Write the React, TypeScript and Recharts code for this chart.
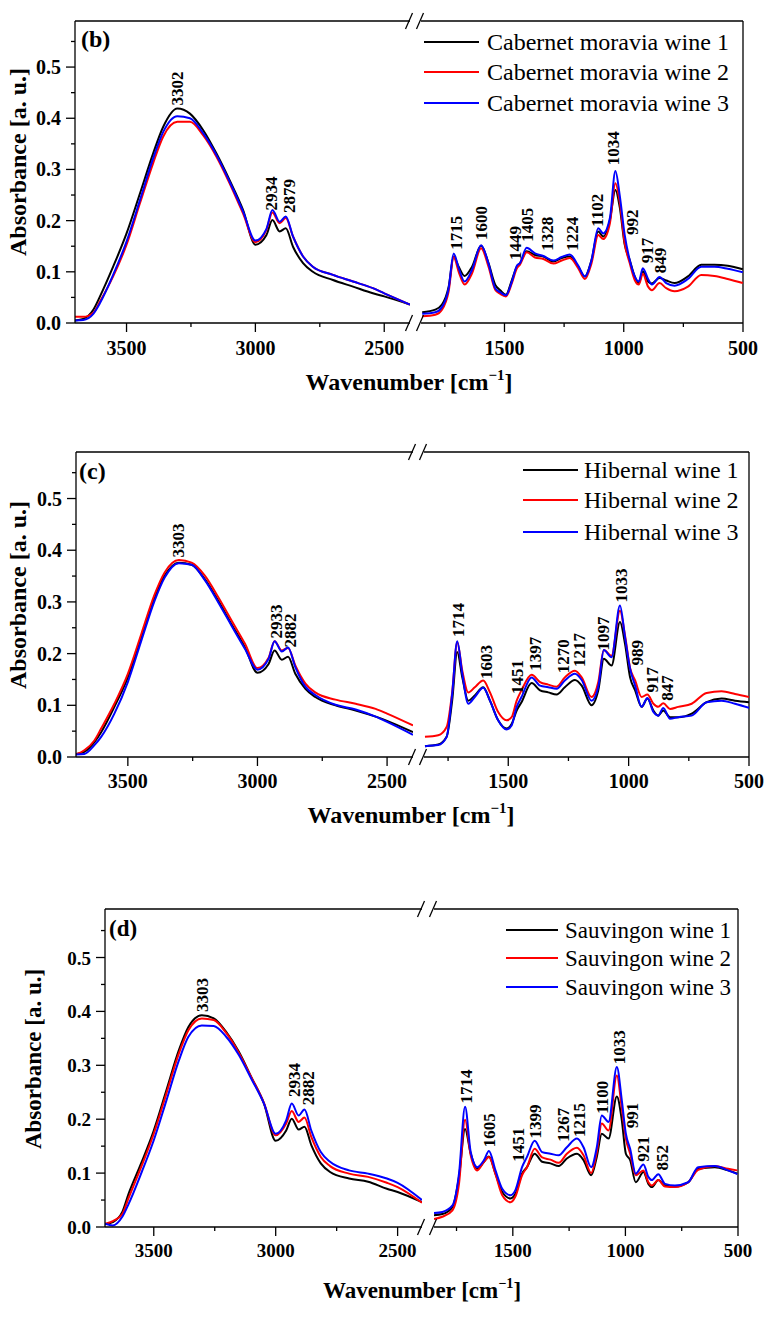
import React from 'react';
import { LineChart, Line, XAxis, YAxis, ReferenceLine, ReferenceDot } from 'recharts';

const FONT = '"Liberation Serif", "Times New Roman", Times, serif';

// ---------- wavenumbers ----------
const leftWn = [3700, 3668, 3629, 3603, 3552, 3500, 3448, 3397, 3358, 3303, 3254, 3203, 3151, 3100, 3048, 3000, 2957, 2934, 2906, 2882, 2854, 2815, 2777, 2699, 2621, 2544, 2500, 2400];

// ---------- panel (b) ----------
const bLeft1 = [0.005, 0.008, 0.026, 0.052, 0.11, 0.175, 0.253, 0.331, 0.383, 0.419, 0.409, 0.377, 0.331, 0.279, 0.221, 0.153, 0.172, 0.201, 0.179, 0.185, 0.149, 0.117, 0.1, 0.084, 0.071, 0.058, 0.052, 0.036];
const bLeft2 = [0.012, 0.012, 0.02, 0.042, 0.091, 0.153, 0.234, 0.312, 0.364, 0.393, 0.393, 0.367, 0.325, 0.273, 0.214, 0.158, 0.182, 0.216, 0.195, 0.205, 0.169, 0.13, 0.11, 0.094, 0.081, 0.068, 0.058, 0.036];
const bLeft3 = [0.005, 0.006, 0.018, 0.039, 0.094, 0.159, 0.24, 0.321, 0.373, 0.404, 0.4, 0.371, 0.328, 0.276, 0.218, 0.161, 0.184, 0.221, 0.198, 0.208, 0.169, 0.13, 0.11, 0.094, 0.081, 0.068, 0.058, 0.036];
const bRightWn = [1845, 1790, 1762, 1734, 1713, 1692, 1667, 1636, 1598, 1567, 1539, 1518, 1494, 1469, 1448, 1435, 1407, 1372, 1337, 1295, 1260, 1226, 1191, 1163, 1135, 1107, 1086, 1058, 1035, 1017, 996, 975, 954, 937, 920, 898, 882, 850, 822, 787, 731, 675, 620, 564, 501];
const bRight1 = [0.021, 0.026, 0.036, 0.071, 0.13, 0.11, 0.092, 0.11, 0.151, 0.117, 0.075, 0.064, 0.055, 0.084, 0.11, 0.117, 0.14, 0.133, 0.13, 0.12, 0.127, 0.13, 0.11, 0.091, 0.123, 0.179, 0.169, 0.201, 0.26, 0.227, 0.153, 0.123, 0.091, 0.078, 0.101, 0.081, 0.077, 0.088, 0.083, 0.078, 0.091, 0.114, 0.114, 0.112, 0.105];
const bRight2 = [0.013, 0.016, 0.026, 0.062, 0.129, 0.1, 0.075, 0.097, 0.146, 0.11, 0.065, 0.057, 0.052, 0.078, 0.107, 0.114, 0.138, 0.128, 0.125, 0.116, 0.122, 0.127, 0.107, 0.086, 0.117, 0.172, 0.164, 0.195, 0.273, 0.237, 0.156, 0.117, 0.084, 0.075, 0.096, 0.071, 0.064, 0.078, 0.068, 0.062, 0.071, 0.094, 0.092, 0.086, 0.078];
const bRight3 = [0.018, 0.021, 0.031, 0.068, 0.136, 0.107, 0.081, 0.104, 0.152, 0.116, 0.068, 0.06, 0.054, 0.081, 0.112, 0.117, 0.147, 0.136, 0.131, 0.122, 0.129, 0.134, 0.112, 0.091, 0.123, 0.185, 0.175, 0.205, 0.297, 0.25, 0.172, 0.123, 0.091, 0.081, 0.107, 0.086, 0.075, 0.09, 0.078, 0.073, 0.086, 0.11, 0.11, 0.106, 0.099];
const bNames = ['Cabernet moravia wine 1', 'Cabernet moravia wine 2', 'Cabernet moravia wine 3'];
const bPeakL = ['3302', '2934', '2879'];
const bPeakLX = [3305, 2941, 2870];
const bPeakLY = [0.425, 0.22, 0.215];
const bPeakR = ['1715', '1600', '1449', '1405', '1328', '1224', '1102', '1034', '992', '917', '849'];
const bPeakRX = [1702, 1599, 1455, 1406, 1323, 1215, 1113, 1044, 967, 904, 849];
const bPeakRY = [0.143, 0.162, 0.123, 0.159, 0.141, 0.141, 0.188, 0.308, 0.172, 0.117, 0.097];

// ---------- panel (c) ----------
const cLeft1 = [0.006, 0.01, 0.029, 0.048, 0.097, 0.154, 0.232, 0.309, 0.351, 0.376, 0.372, 0.344, 0.302, 0.257, 0.212, 0.163, 0.18, 0.206, 0.188, 0.194, 0.161, 0.132, 0.116, 0.1, 0.09, 0.078, 0.07, 0.048];
const cLeft2 = [0.005, 0.013, 0.032, 0.055, 0.103, 0.161, 0.238, 0.314, 0.357, 0.381, 0.376, 0.351, 0.309, 0.264, 0.219, 0.172, 0.192, 0.224, 0.206, 0.211, 0.177, 0.142, 0.125, 0.111, 0.103, 0.093, 0.084, 0.061];
const cLeft3 = [0.005, 0.006, 0.023, 0.039, 0.084, 0.145, 0.225, 0.302, 0.347, 0.375, 0.372, 0.342, 0.299, 0.254, 0.209, 0.169, 0.19, 0.224, 0.204, 0.212, 0.174, 0.136, 0.12, 0.101, 0.092, 0.078, 0.068, 0.043];
const cRightWn = [1846, 1791, 1756, 1733, 1712, 1691, 1666, 1639, 1604, 1576, 1542, 1507, 1486, 1465, 1445, 1403, 1368, 1334, 1299, 1265, 1223, 1195, 1154, 1126, 1103, 1071, 1036, 1015, 994, 973, 946, 922, 897, 877, 856, 828, 794, 738, 676, 614, 558, 500];
const cRight1 = [0.021, 0.024, 0.039, 0.109, 0.203, 0.154, 0.109, 0.119, 0.135, 0.109, 0.071, 0.055, 0.064, 0.09, 0.106, 0.143, 0.129, 0.125, 0.121, 0.135, 0.149, 0.138, 0.1, 0.129, 0.19, 0.177, 0.261, 0.219, 0.154, 0.129, 0.097, 0.113, 0.09, 0.08, 0.09, 0.077, 0.077, 0.084, 0.106, 0.113, 0.109, 0.106];
const cRight2 = [0.039, 0.042, 0.058, 0.125, 0.222, 0.167, 0.125, 0.135, 0.148, 0.125, 0.087, 0.071, 0.077, 0.109, 0.129, 0.159, 0.145, 0.14, 0.136, 0.154, 0.167, 0.154, 0.116, 0.145, 0.207, 0.196, 0.283, 0.235, 0.172, 0.148, 0.116, 0.121, 0.103, 0.097, 0.104, 0.093, 0.097, 0.103, 0.124, 0.127, 0.122, 0.116];
const cRight3 = [0.021, 0.023, 0.039, 0.122, 0.224, 0.161, 0.103, 0.116, 0.134, 0.109, 0.071, 0.053, 0.061, 0.097, 0.116, 0.154, 0.138, 0.135, 0.132, 0.148, 0.161, 0.149, 0.109, 0.136, 0.207, 0.193, 0.293, 0.232, 0.171, 0.138, 0.097, 0.114, 0.087, 0.08, 0.095, 0.074, 0.077, 0.08, 0.106, 0.109, 0.103, 0.095];
const cNames = ['Hibernal wine 1', 'Hibernal wine 2', 'Hibernal wine 3'];
const cPeakL = ['3303', '2933', '2882'];
const cPeakLX = [3305, 2928, 2874];
const cPeakLY = [0.386, 0.229, 0.212];
const cPeakR = ['1714', '1603', '1451', '1397', '1270', '1217', '1097', '1033', '989', '917', '847'];
const cPeakRX = [1708, 1593, 1465, 1389, 1272, 1206, 1108, 1033, 967, 904, 839];
const cPeakRY = [0.232, 0.151, 0.122, 0.167, 0.162, 0.174, 0.206, 0.299, 0.177, 0.125, 0.109];

// ---------- panel (d) ----------
const dLeft1 = [0.005, 0.009, 0.028, 0.062, 0.118, 0.179, 0.254, 0.328, 0.371, 0.393, 0.387, 0.362, 0.325, 0.278, 0.229, 0.16, 0.179, 0.201, 0.181, 0.186, 0.152, 0.118, 0.102, 0.09, 0.084, 0.071, 0.065, 0.046];
const dLeft2 = [0.006, 0.011, 0.024, 0.054, 0.111, 0.173, 0.248, 0.322, 0.365, 0.387, 0.384, 0.36, 0.323, 0.278, 0.23, 0.17, 0.192, 0.215, 0.195, 0.203, 0.167, 0.13, 0.113, 0.099, 0.093, 0.082, 0.074, 0.045];
const dLeft3 = [0.006, 0.003, 0.019, 0.043, 0.099, 0.161, 0.235, 0.309, 0.353, 0.374, 0.373, 0.353, 0.319, 0.275, 0.229, 0.173, 0.198, 0.229, 0.207, 0.218, 0.179, 0.139, 0.121, 0.105, 0.099, 0.09, 0.082, 0.05];
const dRightWn = [1850, 1813, 1768, 1739, 1712, 1687, 1658, 1628, 1606, 1577, 1547, 1510, 1488, 1459, 1437, 1403, 1370, 1333, 1296, 1260, 1215, 1186, 1152, 1127, 1105, 1075, 1038, 1016, 998, 979, 954, 920, 898, 883, 854, 824, 780, 721, 677, 603, 544, 503];
const dRight1 = [0.022, 0.024, 0.037, 0.093, 0.182, 0.136, 0.108, 0.121, 0.131, 0.099, 0.065, 0.053, 0.062, 0.099, 0.111, 0.136, 0.121, 0.118, 0.113, 0.127, 0.136, 0.124, 0.096, 0.13, 0.173, 0.164, 0.242, 0.198, 0.136, 0.124, 0.083, 0.102, 0.08, 0.074, 0.087, 0.077, 0.075, 0.083, 0.108, 0.111, 0.105, 0.099];
const dRight2 = [0.015, 0.019, 0.031, 0.08, 0.199, 0.133, 0.105, 0.121, 0.13, 0.098, 0.059, 0.046, 0.057, 0.096, 0.111, 0.145, 0.129, 0.125, 0.119, 0.136, 0.147, 0.133, 0.1, 0.139, 0.192, 0.179, 0.281, 0.22, 0.164, 0.136, 0.096, 0.105, 0.083, 0.077, 0.087, 0.075, 0.074, 0.083, 0.106, 0.113, 0.108, 0.105];
const dRight3 = [0.026, 0.028, 0.04, 0.099, 0.223, 0.139, 0.111, 0.124, 0.141, 0.105, 0.071, 0.059, 0.069, 0.111, 0.13, 0.16, 0.139, 0.136, 0.133, 0.148, 0.164, 0.148, 0.111, 0.148, 0.207, 0.195, 0.297, 0.235, 0.173, 0.145, 0.099, 0.116, 0.093, 0.087, 0.098, 0.08, 0.077, 0.083, 0.111, 0.113, 0.105, 0.098];
const dNames = ['Sauvingon wine 1', 'Sauvingon wine 2', 'Sauvingon wine 3'];
const dPeakL = ['3303', '2934', '2882'];
const dPeakLX = [3301, 2924, 2867];
const dPeakLY = [0.399, 0.241, 0.226];
const dPeakR = ['1714', '1605', '1451', '1399', '1267', '1215', '1100', '1033', '991', '921', '852'];
const dPeakRX = [1708, 1604, 1475, 1401, 1275, 1208, 1104, 1026, 971, 920, 838];
const dPeakRY = [0.229, 0.148, 0.121, 0.164, 0.158, 0.167, 0.21, 0.302, 0.183, 0.121, 0.105];

// ---------- axes ----------
const yTicks = [0, 0.05, 0.1, 0.15, 0.2, 0.25, 0.3, 0.35, 0.4, 0.45, 0.5, 0.55];
const leftXTicks = [3500, 3250, 3000, 2750, 2500];
const rightXTicks = [1750, 1500, 1250, 1000, 750, 500];
const seriesColors = ['#000000', '#ff0000', '#0000ff'];

const rows = (wn: number[], a: number[], b: number[], c: number[]) =>
  wn.map((w, i) => ({ w, s1: a[i], s2: b[i], s3: c[i] }));

const YTick = (p: any) => {
  const { x, y, payload, fs } = p;
  const v = payload.value;
  const major = Math.round(v * 100) % 10 === 0;
  return (
    <g>
      <line x1={x - (major ? 9 : 4)} x2={x} y1={y} y2={y} stroke="#000" strokeWidth={1.3} />
      {major && (
        <text x={x - 14} y={y} dy={7} textAnchor="end" fontFamily={FONT} fontWeight="bold" fontSize={fs} fill="#000">
          {v.toFixed(1)}
        </text>
      )}
    </g>
  );
};

const XTick = (p: any) => {
  const { x, y, payload, fs, off } = p;
  const v = payload.value;
  const major = v % 500 === 0;
  return (
    <g>
      <line x1={x} x2={x} y1={y} y2={y + (major ? 9 : 4)} stroke="#000" strokeWidth={1.3} />
      {major && (
        <text x={x} y={y + off} textAnchor="middle" fontFamily={FONT} fontWeight="bold" fontSize={fs} fill="#000">
          {v}
        </text>
      )}
    </g>
  );
};

const PeakLabel = (p: any) => {
  const vb = p.viewBox || { x: 0, y: 0, width: 0, height: 0 };
  const cx = vb.x + (vb.width || 0) / 2;
  const cy = vb.y + (vb.height || 0) / 2;
  return (
    <text x={cx} y={cy} dy="0.35em" transform={`rotate(-90 ${cx} ${cy})`} textAnchor="start"
      fontFamily={FONT} fontWeight="bold" fontSize={17} fill="#000">
      {p.txt}
    </text>
  );
};

type PanelCfg = {
  letter: string; top0: number; h: number; L: number; Lend: number; Rs: number; R: number; pt: number; pb: number;
  fs: number; off: number; titleFs: number;
  left: any[]; right: any[];
  names: string[];
  pl: string[]; plx: number[]; ply: number[];
  pr: string[]; prx: number[]; pry: number[];
  leg: { x1: number; x2: number; tx: number; rows: number[]; fs: number };
  letterPos: [number, number];
  xTitle: [number, number];
  yTitle: [number, number];
};

const panels: PanelCfg[] = [
  {
    letter: '(b)', top0: 0, h: 400, L: 75, Lend: 410, Rs: 421, R: 743, pt: 21, pb: 323, fs: 20, off: 32, titleFs: 24,
    left: rows(leftWn, bLeft1, bLeft2, bLeft3), right: rows(bRightWn, bRight1, bRight2, bRight3), names: bNames,
    pl: bPeakL, plx: bPeakLX, ply: bPeakLY, pr: bPeakR, prx: bPeakRX, pry: bPeakRY,
    leg: { x1: 424, x2: 479, tx: 487, rows: [42, 72, 103], fs: 24 },
    letterPos: [81, 47], xTitle: [409, 390], yTitle: [26, 162],
  },
  {
    letter: '(c)', top0: 420, h: 420, L: 76, Lend: 413, Rs: 424, R: 749, pt: 452, pb: 757, fs: 20, off: 31, titleFs: 24,
    left: rows(leftWn, cLeft1, cLeft2, cLeft3), right: rows(cRightWn, cRight1, cRight2, cRight3), names: cNames,
    pl: cPeakL, plx: cPeakLX, ply: cPeakLY, pr: cPeakR, prx: cPeakRX, pry: cPeakRY,
    leg: { x1: 523, x2: 578, tx: 584, rows: [470, 500, 532], fs: 24 },
    letterPos: [79, 479], xTitle: [411, 823], yTitle: [26, 595],
  },
  {
    letter: '(d)', top0: 860, h: 457, L: 105, Lend: 422, Rs: 434, R: 738, pt: 909, pb: 1227, fs: 19, off: 30, titleFs: 23,
    left: rows(leftWn, dLeft1, dLeft2, dLeft3), right: rows(dRightWn, dRight1, dRight2, dRight3), names: dNames,
    pl: dPeakL, plx: dPeakLX, ply: dPeakLY, pr: dPeakR, prx: dPeakRX, pry: dPeakRY,
    leg: { x1: 506, x2: 558, tx: 565, rows: [930, 958, 987], fs: 23 },
    letterPos: [109, 936], xTitle: [422, 1298], yTitle: [41, 1059],
  },
];

const axisLine = { stroke: '#000', strokeWidth: 1.3 };

const renderLines = () =>
  ['s1', 's2', 's3'].map((k, i) => (
    <Line key={k} type="monotone" dataKey={k} stroke={seriesColors[i]} strokeWidth={2} dot={false}
      activeDot={false} isAnimationActive={false} />
  ));

const Panel = ({ c }: { c: PanelCfg }) => {
  const mt = c.pt - c.top0;
  const xh = c.h - (c.pb - c.top0);
  return (
    <div style={{ position: 'absolute', left: 0, top: c.top0, width: 772, height: c.h }}>
      <div style={{ position: 'absolute', left: 0, top: 0 }}>
        <LineChart width={c.Lend} height={c.h} data={c.left} margin={{ top: mt, right: 0, bottom: 0, left: 0 }}>
          <XAxis type="number" dataKey="w" domain={[2400, 3700]} reversed allowDataOverflow ticks={leftXTicks}
            interval={0} tickLine={false} tickSize={0} tickMargin={0} height={xh} axisLine={axisLine}
            tick={(p: any) => <XTick {...p} fs={c.fs} off={c.off} />} />
          <YAxis type="number" domain={[0, 0.59]} allowDataOverflow ticks={yTicks} interval={0} tickLine={false}
            tickSize={0} tickMargin={0} width={c.L} axisLine={axisLine}
            tick={(p: any) => <YTick {...p} fs={c.fs} />} />
          <ReferenceLine y={0.59} stroke="#000" strokeWidth={1.3} />
          {renderLines()}
          {c.pl.map((t, i) => (
            <ReferenceDot key={t + i} x={c.plx[i]} y={c.ply[i]} r={0} fill="none" stroke="none"
              label={<PeakLabel txt={t} />} />
          ))}
        </LineChart>
      </div>
      <div style={{ position: 'absolute', left: c.Rs, top: 0 }}>
        <LineChart width={772 - c.Rs} height={c.h} data={c.right} margin={{ top: mt, right: 772 - c.R, bottom: 0, left: 0 }}>
          <XAxis type="number" dataKey="w" domain={[500, 1850]} reversed allowDataOverflow ticks={rightXTicks}
            interval={0} tickLine={false} tickSize={0} tickMargin={0} height={xh} axisLine={axisLine}
            tick={(p: any) => <XTick {...p} fs={c.fs} off={c.off} />} />
          <YAxis type="number" domain={[0, 0.59]} allowDataOverflow hide />
          <ReferenceLine y={0.59} stroke="#000" strokeWidth={1.3} />
          <ReferenceLine x={500} stroke="#000" strokeWidth={1.3} />
          {renderLines()}
          {c.pr.map((t, i) => (
            <ReferenceDot key={t + i} x={c.prx[i]} y={c.pry[i]} r={0} fill="none" stroke="none"
              label={<PeakLabel txt={t} />} />
          ))}
        </LineChart>
      </div>
    </div>
  );
};

const Slash = ({ x, y }: { x: number; y: number }) => (
  <line x1={x - 3.5} y1={y + 8} x2={x + 3.5} y2={y - 8} stroke="#000" strokeWidth={1.3} />
);

const Overlay = () => (
  <svg width={772} height={1317} style={{ position: 'absolute', left: 0, top: 0, pointerEvents: 'none' }}>
    {panels.map((c, pi) => (
      <g key={pi}>
        <text x={c.letterPos[0]} y={c.letterPos[1]} fontFamily={FONT} fontWeight="bold" fontSize={c.titleFs}>
          {c.letter}
        </text>
        <text x={c.xTitle[0]} y={c.xTitle[1]} textAnchor="middle" fontFamily={FONT} fontWeight="bold" fontSize={c.titleFs}>
          Wavenumber [cm<tspan dy={-10} fontSize={c.titleFs * 0.62}>−1</tspan><tspan dy={10}>]</tspan>
        </text>
        <text x={c.yTitle[0]} y={c.yTitle[1]} textAnchor="middle" transform={`rotate(-90 ${c.yTitle[0]} ${c.yTitle[1]})`}
          fontFamily={FONT} fontWeight="bold" fontSize={c.titleFs}>
          Absorbance [a. u.]
        </text>
        {c.names.map((n, i) => (
          <g key={n}>
            <line x1={c.leg.x1} x2={c.leg.x2} y1={c.leg.rows[i]} y2={c.leg.rows[i]} stroke={seriesColors[i]} strokeWidth={2} />
            <text x={c.leg.tx} y={c.leg.rows[i] + 8} fontFamily={FONT} fontSize={c.leg.fs} fill="#000">{n}</text>
          </g>
        ))}
        <Slash x={c.Lend - 1} y={c.pt} />
        <Slash x={c.Rs - 1} y={c.pt} />
        <Slash x={c.Lend - 1} y={c.pb} />
        <Slash x={c.Rs - 1} y={c.pb} />
      </g>
    ))}
  </svg>
);

export default function App() {
  return (
    <div style={{ position: 'absolute', left: 0, top: 0, width: 772, height: 1317, background: '#fff', overflow: 'hidden' }}>
      {panels.map((c, i) => (
        <Panel key={i} c={c} />
      ))}
      <Overlay />
    </div>
  );
}
